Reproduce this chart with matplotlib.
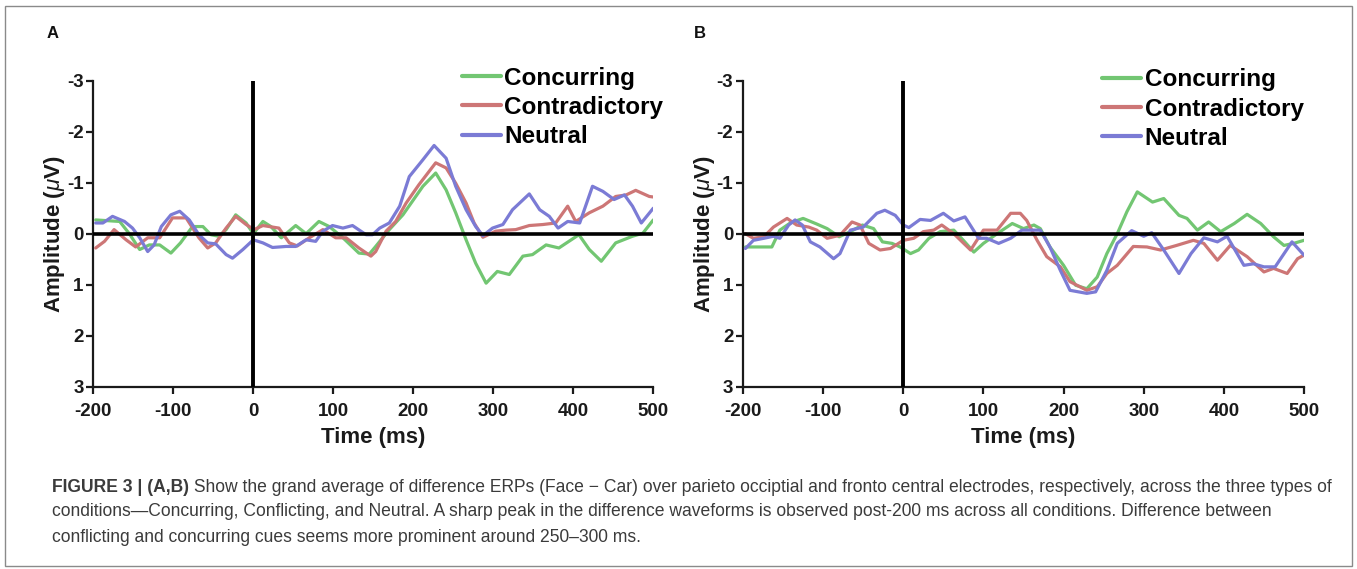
import matplotlib
matplotlib.use("Agg")
import matplotlib.pyplot as plt
from matplotlib.patches import Rectangle

# ---------------- data ----------------
x_ticks = [-200, -100, 0, 100, 200, 300, 400, 500]
y_ticks = [-3, -2, -1, 0, 1, 2, 3]
series_names = ["Concurring", "Contradictory", "Neutral"]

# Panel A
a_conc_t = [-197, -167, -155, -142, -130, -117, -103, -91, -76, -63, -53, -43, -34, -22, -9, 0, 12, 22, 35, 53, 66, 82, 95, 112, 132, 145, 153, 170, 187, 212, 228, 241, 253, 266, 278, 291, 305, 320, 337, 349, 366, 382, 407, 420, 435, 453, 474, 487, 500]
a_conc_v = [-0.27, -0.24, 0, 0.31, 0.22, 0.22, 0.38, 0.18, -0.14, -0.14, 0.02, 0.05, -0.08, -0.37, -0.21, 0, -0.24, -0.14, 0.08, -0.16, 0, -0.24, -0.14, 0.08, 0.38, 0.40, 0.25, -0.08, -0.37, -0.93, -1.19, -0.86, -0.41, 0.12, 0.58, 0.97, 0.74, 0.80, 0.44, 0.41, 0.22, 0.28, 0.02, 0.31, 0.54, 0.18, 0.05, -0.01, -0.27]

a_contra_t = [-197, -186, -174, -159, -147, -132, -117, -101, -84, -68, -57, -47, -34, -22, -9, 1, 12, 32, 45, 55, 70, 87, 103, 116, 132, 147, 153, 166, 178, 191, 207, 228, 241, 253, 266, 276, 287, 303, 316, 328, 345, 362, 378, 393, 403, 420, 437, 453, 466, 478, 495, 500]
a_contra_v = [0.28, 0.15, -0.08, 0.12, 0.26, 0.08, 0.08, -0.31, -0.31, 0.08, 0.28, 0.18, -0.11, -0.34, -0.18, -0.08, -0.16, -0.11, 0.18, 0.24, 0.08, -0.08, 0.08, 0.08, 0.28, 0.44, 0.35, -0.05, -0.24, -0.6, -0.96, -1.39, -1.29, -0.99, -0.6, -0.21, 0.07, -0.05, -0.07, -0.08, -0.16, -0.18, -0.21, -0.54, -0.24, -0.41, -0.54, -0.73, -0.76, -0.85, -0.73, -0.72]

a_neut_t = [-197, -188, -176, -161, -151, -142, -132, -124, -115, -103, -92, -80, -68, -57, -47, -34, -26, -13, 0, 12, 24, 41, 53, 66, 78, 87, 99, 112, 124, 141, 149, 158, 170, 183, 195, 212, 226, 241, 253, 266, 278, 287, 299, 312, 324, 345, 358, 370, 381, 393, 408, 424, 437, 451, 464, 474, 485, 500]
a_neut_v = [-0.21, -0.21, -0.34, -0.24, -0.11, 0.08, 0.35, 0.22, -0.14, -0.37, -0.44, -0.27, 0.02, 0.18, 0.2, 0.41, 0.48, 0.31, 0.12, 0.18, 0.27, 0.25, 0.25, 0.12, 0.15, -0.05, -0.16, -0.11, -0.16, 0.02, 0.02, -0.11, -0.21, -0.54, -1.12, -1.45, -1.73, -1.48, -0.93, -0.47, -0.14, 0.04, -0.11, -0.18, -0.47, -0.78, -0.47, -0.34, -0.11, -0.24, -0.21, -0.93, -0.83, -0.67, -0.76, -0.54, -0.21, -0.5]

# Panel B
b_conc_t = [-197, -183, -164, -154, -141, -125, -108, -95, -80, -66, -51, -37, -26, -14, -4, 9, 19, 32, 46, 63, 75, 88, 100, 117, 136, 150, 163, 171, 183, 200, 215, 229, 242, 254, 267, 279, 292, 311, 325, 344, 354, 367, 381, 396, 413, 429, 446, 462, 475, 487, 500]
b_conc_v = [0.26, 0.26, 0.26, -0.07, -0.21, -0.3, -0.19, -0.1, 0.06, -0.04, -0.17, -0.1, 0.16, 0.19, 0.26, 0.39, 0.32, 0.09, -0.04, -0.07, 0.13, 0.36, 0.19, 0, -0.2, -0.1, -0.17, -0.1, 0.26, 0.62, 1.01, 1.08, 0.85, 0.39, 0, -0.43, -0.82, -0.62, -0.69, -0.36, -0.3, -0.07, -0.23, -0.04, -0.2, -0.38, -0.2, 0.06, 0.23, 0.19, 0.13]

b_contra_t = [-197, -187, -174, -162, -145, -133, -118, -108, -95, -79, -64, -54, -43, -29, -16, 0, 13, 25, 38, 48, 63, 84, 100, 117, 134, 146, 154, 167, 179, 196, 208, 229, 242, 254, 267, 287, 304, 321, 341, 362, 375, 392, 408, 429, 450, 462, 479, 492, 500]
b_contra_v = [0, 0.09, 0.06, -0.13, -0.3, -0.17, -0.13, -0.07, 0.09, 0.03, -0.23, -0.17, 0.19, 0.32, 0.29, 0.13, 0.09, -0.04, -0.07, -0.17, 0, 0.32, -0.07, -0.07, -0.4, -0.4, -0.26, 0.13, 0.45, 0.65, 0.94, 1.11, 1.04, 0.78, 0.62, 0.25, 0.26, 0.32, 0.23, 0.13, 0.19, 0.52, 0.23, 0.45, 0.75, 0.68, 0.78, 0.49, 0.42]

b_neut_t = [-197, -187, -174, -162, -154, -143, -135, -126, -116, -104, -87, -79, -66, -50, -33, -23, -10, 0, 7, 21, 34, 50, 63, 77, 94, 104, 119, 134, 148, 160, 171, 183, 196, 208, 229, 240, 254, 267, 285, 300, 310, 325, 344, 359, 375, 392, 404, 425, 437, 450, 464, 485, 500]
b_neut_v = [0.29, 0.13, 0.09, 0.05, 0.09, -0.17, -0.27, -0.17, 0.16, 0.26, 0.49, 0.39, -0.07, -0.13, -0.4, -0.46, -0.36, -0.17, -0.12, -0.28, -0.26, -0.4, -0.25, -0.33, 0.09, 0.09, 0.19, 0.09, -0.07, -0.07, -0.07, 0.26, 0.72, 1.11, 1.17, 1.14, 0.72, 0.19, -0.06, 0.05, -0.02, 0.32, 0.78, 0.39, 0.08, 0.16, 0.05, 0.62, 0.59, 0.65, 0.65, 0.16, 0.42]

caption_bold = "FIGURE 3 | (A,B)"
caption_lines = [
    " Show the grand average of difference ERPs (Face \u2212 Car) over parieto occiptial and fronto central electrodes, respectively, across the three types of",
    "conditions\u2014Concurring, Conflicting, and Neutral. A sharp peak in the difference waveforms is observed post-200 ms across all conditions. Difference between",
    "conflicting and concurring cues seems more prominent around 250\u2013300 ms.",
]

# ---------------- style ----------------
colors = ["#72c672", "#cd7676", "#7b7bd5"]
plt.rcParams["font.family"] = ["Liberation Sans", "DejaVu Sans"]
plt.rcParams["mathtext.fontset"] = "custom"
plt.rcParams["mathtext.it"] = "Liberation Sans:italic"
plt.rcParams["mathtext.rm"] = "Liberation Sans"

W, H = 1357, 569
fig = plt.figure(figsize=(W / 100, H / 100), dpi=100)

def fx(px):
    return px / W

def fy(py):
    return 1 - py / H

panels = [
    dict(label="A", left=93.3, right=653.3, lab_x=53, leg_x=0.658,
         data=[(a_conc_t, a_conc_v), (a_contra_t, a_contra_v), (a_neut_t, a_neut_v)], leg_y=1.045),
    dict(label="B", left=743, right=1304, lab_x=700, leg_x=0.640,
         data=[(b_conc_t, b_conc_v), (b_contra_t, b_contra_v), (b_neut_t, b_neut_v)], leg_y=1.040),
]
top_px, bot_px = 80.7, 386.7

for p in panels:
    ax = fig.add_axes([fx(p["left"]), fy(bot_px), fx(p["right"] - p["left"]), (bot_px - top_px) / H])
    for (t, v), c, name in zip(p["data"], colors, series_names):
        ax.plot(t, v, color=c, lw=2.3, solid_joinstyle="round", solid_capstyle="round", label=name, zorder=3)
    ax.axhline(0, color="black", lw=2.6, zorder=4)
    ax.axvline(0, color="black", lw=2.8, zorder=4)
    ax.set_xlim(-200, 500)
    ax.set_ylim(3, -3)
    ax.set_xticks(x_ticks)
    ax.set_xticklabels([str(x) for x in x_ticks])
    ax.set_yticks(y_ticks)
    ax.set_yticklabels([str(y) for y in y_ticks])
    for s in ["top", "right"]:
        ax.spines[s].set_visible(False)
    for s in ["left", "bottom"]:
        ax.spines[s].set_linewidth(1.6)
        ax.spines[s].set_color("#1a1a1a")
    ax.tick_params(direction="out", length=5, width=1.6, color="#1a1a1a",
                   labelsize=13.5, labelcolor="#1a1a1a")
    ax.tick_params(axis="x", pad=7)
    ax.tick_params(axis="y", pad=2)
    for lbl in ax.get_xticklabels() + ax.get_yticklabels():
        lbl.set_fontweight("bold")
    ax.set_xlabel("Time (ms)", fontsize=16, fontweight="bold", labelpad=5, color="#1a1a1a")
    ax.set_ylabel(r"Amplitude ($\mu$V)", fontsize=16, fontweight="bold", labelpad=0, color="#1a1a1a")
    ax.patch.set_alpha(0)
    leg = ax.legend(loc="upper left", bbox_to_anchor=(p["leg_x"], p["leg_y"]), frameon=False,
                    handlelength=1.6, handletextpad=0.15, labelspacing=0.25, borderpad=0,
                    borderaxespad=0, prop=dict(family="Liberation Sans", weight="bold", size=17.5))
    for line in leg.get_lines():
        line.set_linewidth(3)
    fig.text(fx(p["lab_x"]), fy(34), p["label"], fontsize=12, fontweight="bold",
             ha="center", va="center", color="#111111")

# outer frame
fig.add_artist(Rectangle((fx(5), fy(566)), fx(1347), (566 - 6) / H, transform=fig.transFigure,
                         fill=False, ec="#8a8a8a", lw=1.0))

# caption
cap_color = "#3b3b3b"
cap_size = 12.65
x0 = fx(52)
ys = [487, 512, 538]
tb = fig.text(x0, fy(ys[0]), caption_bold, fontsize=cap_size, fontweight="bold", color=cap_color, va="center")
fig.canvas.draw()
r = fig.canvas.get_renderer()
bb = tb.get_window_extent(r)
fig.text(bb.x1 / W, fy(ys[0]), caption_lines[0], fontsize=cap_size, color=cap_color, va="center")
for line, y in zip(caption_lines[1:], ys[1:]):
    fig.text(x0, fy(y), line, fontsize=cap_size, color=cap_color, va="center")

fig.savefig("out.png", dpi=100)
